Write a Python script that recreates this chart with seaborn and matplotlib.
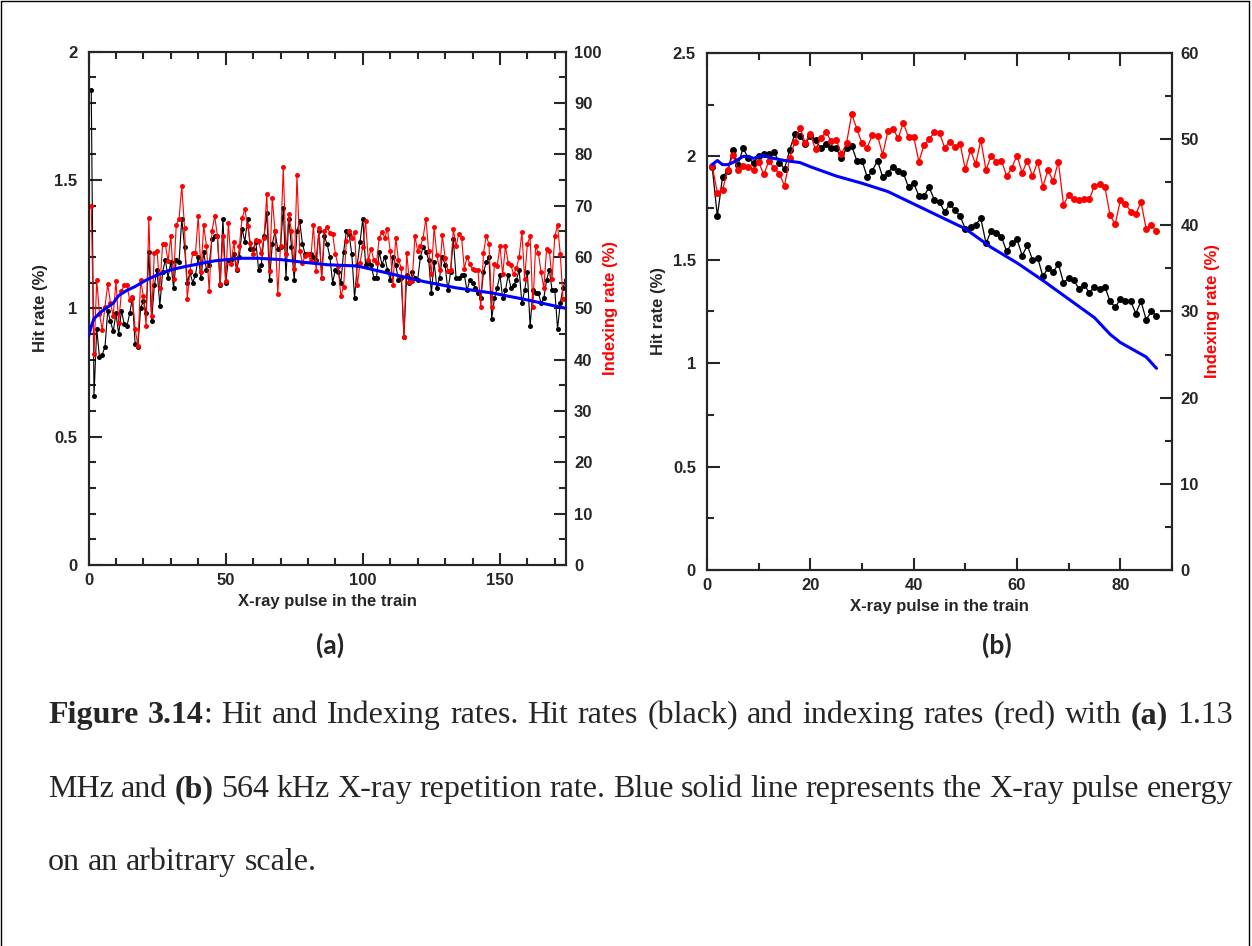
import numpy as np
import matplotlib
matplotlib.use("Agg")
import matplotlib.pyplot as plt
import seaborn as sns
from matplotlib.lines import Line2D
from matplotlib.ticker import MultipleLocator, FuncFormatter

# ---- panel (a): 1.13 MHz ----
pulse_a = np.arange(1, 175)
hit_a = [1.85, 0.66, 0.92, 0.81, 0.82, 0.85, 0.99, 0.95, 0.91, 0.98,
         0.90, 0.99, 0.94, 0.93, 0.98, 1.04, 0.86, 0.85, 1.00, 1.03,
         0.98, 1.22, 0.95, 1.09, 1.15, 1.01, 1.14, 1.19, 1.12, 1.18,
         1.08, 1.19, 1.18, 1.35, 1.24, 1.10, 1.14, 1.10, 1.13, 1.20,
         1.12, 1.22, 1.15, 1.17, 1.27, 1.28, 1.28, 1.09, 1.35, 1.10,
         1.19, 1.19, 1.21, 1.15, 1.20, 1.31, 1.26, 1.35, 1.23, 1.23,
         1.26, 1.15, 1.17, 1.28, 1.37, 1.11, 1.25, 1.30, 1.23, 1.24,
         1.39, 1.12, 1.35, 1.24, 1.11, 1.30, 1.34, 1.25, 1.21, 1.21,
         1.21, 1.20, 1.19, 1.30, 1.12, 1.28, 1.25, 1.20,
         1.10, 1.15, 1.14, 1.10, 1.22, 1.30, 1.29, 1.21, 1.04, 1.17,
         1.26, 1.35, 1.17, 1.18, 1.17, 1.12, 1.12, 1.22, 1.17, 1.20,
         1.15, 1.11, 1.20, 1.17, 1.11, 1.12, 0.89, 1.13, 1.10, 1.14,
         1.12, 1.11, 1.20, 1.24, 1.22, 1.19, 1.06, 1.18, 1.08, 1.12,
         1.20, 1.17, 1.07, 1.14, 1.27, 1.12, 1.12, 1.13, 1.13, 1.07, 1.11,
         1.10, 1.08, 1.06, 1.04, 1.14, 1.18, 1.20, 0.96, 1.04, 1.08, 1.13, 1.04, 1.07,
         1.13, 1.08, 1.09, 1.11, 1.15, 1.02, 1.07, 1.14, 0.93, 1.07, 1.06, 1.06, 1.02, 1.04,
         1.11, 1.15, 1.07, 1.07, 0.92, 1.02, 1.08, 1.11]
idx_a = [70.0, 41.1, 55.5, 48.9, 45.8, 50.2, 54.7, 51.1, 48.5, 55.3,
         47.1, 53.3, 54.6, 54.6, 51.6, 52.2, 46.0, 42.7, 55.5, 52.4,
         46.6, 67.6, 48.5, 60.8, 61.2, 54.0, 62.5, 62.5, 59.2, 64.1,
         55.7, 66.3, 67.4, 73.8, 65.7, 51.8, 57.3, 60.8, 60.8, 68.0,
         57.0, 66.2, 62.1, 53.3, 65.0, 68.0, 64.1, 54.8, 64.1, 55.3,
         66.7, 58.7, 62.9, 57.6, 62.1, 67.6, 69.3, 66.0, 62.8, 60.5,
         63.4, 63.1, 60.8, 63.8, 72.2, 57.3, 71.4, 65.0, 52.8, 62.1,
         77.5, 60.5, 68.3, 65.0, 57.7, 75.9, 61.2, 58.9, 60.2, 60.5,
         59.2, 66.3, 57.3, 65.7, 56.0, 65.0, 65.9, 64.6,
         64.5, 60.6, 58.3, 52.4, 54.2, 63.2, 65.0, 63.8, 64.9, 54.5,
         58.9, 62.0, 67.1, 59.4, 61.6, 59.4, 58.9, 63.8, 64.9, 63.8,
         65.4, 61.2, 54.5, 63.8, 59.4, 57.9, 44.5, 60.8, 55.1, 55.3,
         64.1, 61.2, 62.1, 63.8, 67.5, 61.2, 56.6, 65.8, 60.4, 57.4,
         64.2, 59.9, 57.3, 57.4, 65.5, 62.1, 64.5, 63.8, 57.7, 60.0, 58.7,
         57.6, 57.4, 57.4, 50.2, 60.8, 64.1, 62.5, 50.2, 58.7, 58.3, 62.1, 56.6, 62.1,
         58.9, 58.4, 56.6, 57.9, 60.0, 64.9, 55.7, 62.5, 64.1, 50.3, 62.1,
         60.8, 57.0, 54.0, 61.5, 61.2, 55.7, 64.1, 66.2, 60.5, 51.8, 52.0]
energy_a_x = [0, 1, 2, 5, 9, 11, 14, 17, 21, 25, 30, 34, 41, 46, 55, 62,
              70, 78, 87, 98, 110, 122, 134, 147, 159, 174]
energy_a = [0.89, 0.93, 0.96, 0.99, 1.02, 1.05, 1.07, 1.085, 1.11, 1.13,
            1.15, 1.16, 1.175, 1.185, 1.195, 1.195, 1.19, 1.18, 1.17,
            1.165, 1.135, 1.105, 1.08, 1.06, 1.035, 1.0]

# ---- panel (b): 564 kHz ----
pulse_b = np.arange(1, 88)
hit_b = [1.95, 1.71, 1.90, 1.93, 2.03, 1.96, 2.04, 1.99, 1.97, 2.00,
         2.01, 2.01, 2.02, 1.97, 1.94, 2.03, 2.11, 2.10, 2.06, 2.10,
         2.08, 2.04, 2.06, 2.04, 2.04, 1.99, 2.04, 2.05, 1.98, 1.98,
         1.90, 1.93, 1.98, 1.90, 1.92, 1.95, 1.93, 1.92, 1.85, 1.87,
         1.81, 1.81, 1.85, 1.79, 1.78, 1.73, 1.77, 1.74, 1.71, 1.65,
         1.66, 1.67, 1.70, 1.58, 1.64, 1.63, 1.61, 1.54, 1.58, 1.60,
         1.52, 1.57, 1.50, 1.51, 1.42, 1.46, 1.44, 1.48, 1.39, 1.41,
         1.40, 1.36, 1.38, 1.34, 1.37, 1.36, 1.37, 1.30, 1.27, 1.31,
         1.30, 1.30, 1.24, 1.30, 1.21, 1.25, 1.23]
idx_b = [46.9, 43.8, 44.1, 46.4, 48.2, 46.4, 46.9, 46.8, 46.4, 47.3,
         45.9, 47.5, 46.6, 46.0, 44.6, 47.8, 49.7, 51.3, 49.6, 50.6,
         48.8, 50.1, 50.8, 49.8, 49.9, 48.3, 49.5, 52.9, 51.2, 49.5,
         49.0, 50.5, 50.4, 48.2, 50.9, 51.2, 50.1, 51.9, 50.2, 50.3,
         47.4, 49.3, 50.0, 50.8, 50.7, 49.0, 49.7, 49.1, 49.4, 46.5,
         48.7, 47.1, 49.9, 46.4, 48.1, 47.4, 47.5, 45.7, 46.7, 48.1,
         46.1, 47.5, 45.7, 47.4, 44.5, 46.4, 45.1, 47.4, 42.4, 43.5,
         43.1, 42.9, 43.0, 43.0, 44.6, 44.8, 44.5, 41.2, 40.1, 42.9,
         42.5, 41.6, 41.3, 42.7, 39.6, 40.0, 39.3]
energy_b_x = [1, 2, 3, 4, 5, 6, 7, 8, 9, 10, 11, 12, 15, 18, 20, 25, 30, 35,
              40, 45, 50, 55, 60, 65, 70, 75, 78, 80, 85, 87]
energy_b = [1.96, 1.98, 1.96, 1.96, 1.97, 1.985, 2.0, 2.0, 1.99, 2.0, 2.005,
            1.995, 1.98, 1.97, 1.95, 1.905, 1.87, 1.83, 1.77, 1.71, 1.65,
            1.56, 1.485, 1.40, 1.31, 1.22, 1.14, 1.10, 1.03, 0.975]

sns.set_style("ticks")
plt.rcParams['font.family'] = ['Liberation Sans', 'DejaVu Sans']
plt.rcParams['font.weight'] = 'bold'
plt.rcParams['axes.labelweight'] = 'bold'

fig = plt.figure(figsize=(12.52, 9.46), dpi=100)

fmt = FuncFormatter(lambda v, p: '%g' % v)


def panel(rect, pulse, hit, idx, ex, ey, xmax, xmaj, xmin, ymax, ymaj, ymin,
          rmax, ms, lw, lab_pos):
    ax = fig.add_axes(rect)
    ax2 = ax.twinx()
    ax3 = ax.twinx()
    sns.lineplot(x=pulse, y=hit, ax=ax, color='black', lw=lw, marker='o',
                 markersize=ms, markeredgewidth=0)
    sns.lineplot(x=pulse, y=idx, ax=ax2, color='#ff0000', lw=lw, marker='o',
                 markersize=ms, markeredgewidth=0)
    sns.lineplot(x=ex, y=ey, ax=ax3, color='#0000ff', lw=2.2)
    ax.set_xlim(0, xmax)
    ax.set_ylim(0, ymax)
    ax2.set_ylim(0, rmax)
    ax3.set_ylim(0, ymax)
    ax3.axis('off')
    ax.xaxis.set_major_locator(MultipleLocator(xmaj))
    ax.xaxis.set_minor_locator(MultipleLocator(xmin))
    ax.yaxis.set_major_locator(MultipleLocator(ymaj))
    ax.yaxis.set_minor_locator(MultipleLocator(ymin))
    ax2.yaxis.set_major_locator(MultipleLocator(10))
    ax2.yaxis.set_minor_locator(MultipleLocator(5))
    ax.yaxis.set_major_formatter(fmt)
    ax.xaxis.set_major_formatter(fmt)
    ax.tick_params(which='both', direction='in', top=True, right=False,
                   width=1.5, labelsize=12)
    ax.tick_params(which='major', length=9)
    ax.tick_params(which='minor', length=5)
    ax.tick_params(axis='y', pad=8)
    ax.tick_params(axis='x', pad=6)
    ax2.tick_params(which='both', direction='in', width=1.5, labelsize=12, pad=6)
    ax2.tick_params(which='major', length=9)
    ax2.tick_params(which='minor', length=5)
    for a in (ax, ax2, ax3):
        for s in a.spines.values():
            s.set_linewidth(1.5)
    ax.set_xlabel('X-ray pulse in the train', fontsize=12)
    ax.set_ylabel('Hit rate (%)', fontsize=12)
    ax2.set_ylabel('Indexing rate (%)', fontsize=12, color='#ff0000')
    ax.xaxis.set_label_coords(0.5, lab_pos[0])
    ax.yaxis.set_label_coords(lab_pos[1], 0.5)
    ax2.yaxis.set_label_coords(lab_pos[2], 0.5)
    return ax


panel([0.0707, 0.4027, 0.3812, 0.5427], pulse_a, hit_a, idx_a,
      energy_a_x, energy_a, 174, 50, 10, 2, 0.5, 0.1, 100, 3.6, 0.8,
      (-0.056, -0.085, 1.079))
panel([0.5647, 0.3975, 0.3714, 0.5465], pulse_b, hit_b, idx_b,
      energy_b_x, energy_b, 90, 20, 10, 2.5, 0.5, 0.25, 60, 5.0, 0.9,
      (-0.056, -0.089, 1.07))

fig.text(0.2636, 0.3182, '(a)', fontsize=19, family='Lato', weight='bold',
         ha='center', va='center')
fig.text(0.7963, 0.3182, '(b)', fontsize=19, family='Lato', weight='bold',
         ha='center', va='center')

# ---- caption, justified like the source document ----
cap_lines = [
    [("Figure 3.14", True),
     (": Hit and Indexing rates. Hit rates (black) and indexing rates (red) with ", False),
     ("(a)", True), (" 1.13", False)],
    [("MHz and ", False), ("(b)", True),
     (" 564 kHz X-ray repetition rate. Blue solid line represents the X-ray pulse energy", False)],
    [("on an arbitrary scale.", False)],
]
cap_y = [0.2357, 0.1575, 0.0803]
cap_justify = [True, True, False]
cap_size = 23
x0, x1 = 48 / 1252, 1233 / 1252

fig.canvas.draw()
renderer = fig.canvas.get_renderer()


def width(a):
    return a.get_window_extent(renderer).width / fig.bbox.width


def new_text(s, bold, y):
    return fig.text(0, y, s, fontsize=cap_size, family=['Liberation Serif'],
                    weight='bold' if bold else 'normal', va='baseline')


probe1 = new_text('a b', False, -1)
probe2 = new_text('ab', False, -1)
space_w = width(probe1) - width(probe2)
probe1.remove()
probe2.remove()

for runs, y, just in zip(cap_lines, cap_y, cap_justify):
    words = [[]]
    for txt, bold in runs:
        for i, part in enumerate(txt.split(' ')):
            if i > 0:
                words.append([])
            if part:
                words[-1].append((part, bold))
    words = [w for w in words if w]
    arts = [[new_text(p, b, y) for p, b in w] for w in words]
    lens = [sum(width(a) for a in w) for w in arts]
    gap = (x1 - x0 - sum(lens)) / (len(words) - 1) if just else space_w
    x = x0
    for w, L in zip(arts, lens):
        xx = x
        for a in w:
            a.set_x(xx)
            xx += width(a)
        x += L + gap

# page frame
for xs, ys in [([0.001, 0.001], [0, 0.999]), ([0.001, 0.998], [0.999, 0.999]),
               ([0.998, 0.998], [0, 0.999])]:
    fig.add_artist(Line2D(xs, ys, transform=fig.transFigure, color='black', lw=1))

fig.savefig('out.png', dpi=100)
